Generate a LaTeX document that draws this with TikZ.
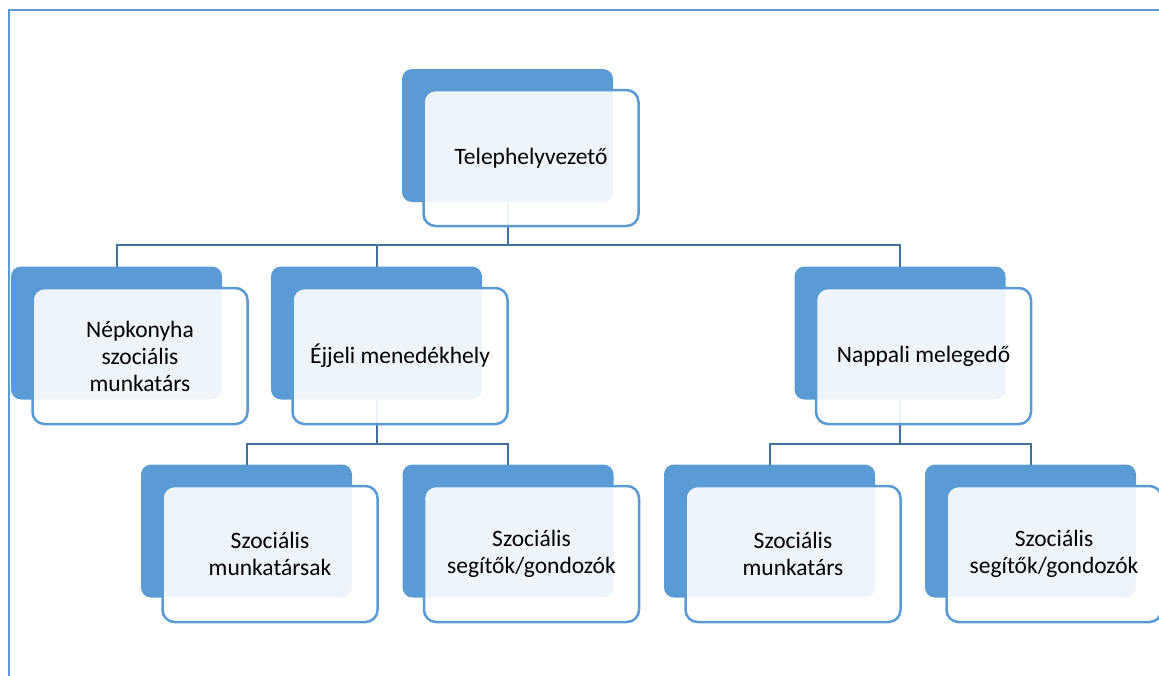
\documentclass[tikz,border=0pt]{standalone}
\usepackage{fontspec}
\setmainfont{Carlito}
\definecolor{accent}{HTML}{5B9BD5}
\definecolor{connblue}{HTML}{41719C}
\begin{document}
\begin{tikzpicture}[x=1pt,y=-1pt,
  backbox/.style={fill=accent, rounded corners=10pt, minimum width=211pt, minimum height=133pt, inner sep=0pt, outer sep=0pt},
  frontbox/.style={draw=accent, line width=2.5pt, fill=white, fill opacity=0.9, text opacity=1, rounded corners=12pt, minimum width=215pt, minimum height=136pt, inner sep=0pt, outer sep=0pt, align=center, font=\fontsize{23.5}{27}\selectfont},
  connector/.style={draw=connblue, line width=2pt},
  frameline/.style={draw=accent, line width=2pt}]
\useasboundingbox (0,0) rectangle (1159,675);
\clip (0,0) rectangle (1159,675);
% frame
\coordinate (fl) at (9,676);
\coordinate (ft) at (9,9.5);
\coordinate (fr) at (1160,9.5);
\draw[frameline] (fl) -- (ft) -- (fr);
% back boxes
\node[backbox] (tb) at (507.5,135.5) {};
\node[backbox] (ab) at (116.5,333) {};
\node[backbox] (bb) at (376.5,333) {};
\node[backbox] (cb) at (900,333) {};
\node[backbox] (db) at (246.5,531) {};
\node[backbox] (eb) at (508,531) {};
\node[backbox] (fb) at (769.5,531) {};
\node[backbox] (gb) at (1030.5,531) {};
% connectors
\coordinate (j0) at (507.5,245);
\coordinate (j1) at (376.5,444);
\coordinate (j2) at (900,444);
\draw[connector] (tb.south) -- (j0);
\draw[connector] (ab.north) -- (ab.north |- j0) -- (cb.north |- j0) -- (cb.north);
\draw[connector] (bb.north) -- (bb.north |- j0);
\draw[connector] (bb.south) -- (j1);
\draw[connector] (db.north) -- (db.north |- j1) -- (eb.north |- j1) -- (eb.north);
\draw[connector] (cb.south) -- (j2);
\draw[connector] (fb.north) -- (fb.north |- j2) -- (gb.north |- j2) -- (gb.north);
% front boxes
\node[frontbox] (t) at ([shift={(23.5,22.5)}]tb.center) {Telephelyvezető};
\node[frontbox] (a) at ([shift={(23.5,23)}]ab.center) {Népkonyha\\szociális\\munkatárs};
\node[frontbox] (b) at ([shift={(23.5,23)}]bb.center) {Éjjeli menedékhely};
\node[frontbox] (c) at ([shift={(23.5,23)}]cb.center) {Nappali melegedő};
\node[frontbox] (d) at ([shift={(23.5,23)}]db.center) {Szociális\\munkatársak};
\node[frontbox] (e) at ([shift={(23.5,23)}]eb.center) {Szociális\\segítők/gondozók};
\node[frontbox] (f) at ([shift={(23.5,23)}]fb.center) {Szociális\\munkatárs};
\node[frontbox] (g) at ([shift={(23.5,23)}]gb.center) {Szociális\\segítők/gondozók};
\end{tikzpicture}
\end{document}
